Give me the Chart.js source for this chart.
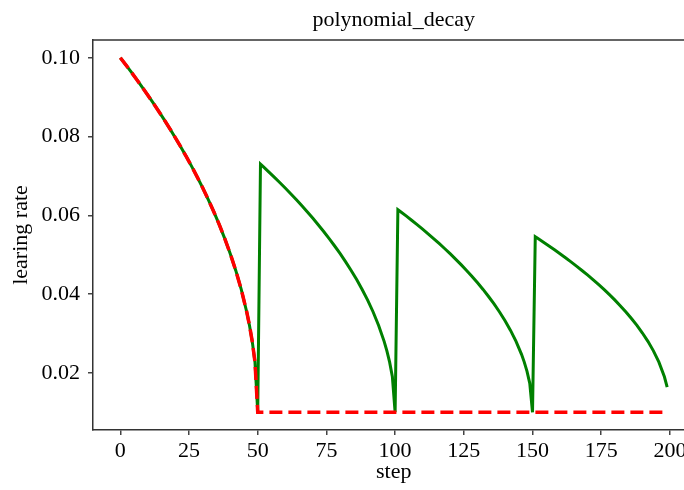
<!DOCTYPE html>
<html>
<head>
<meta charset="utf-8">
<script src="https://cdn.jsdelivr.net/npm/chart.js@4/dist/chart.umd.min.js"></script>
<style>
html, body { margin: 0; padding: 0; overflow: hidden; background: #fff; }
#wrap { width: 700px; height: 490px; }
</style>
</head>
<body>
<div id="wrap"><canvas id="c" width="700" height="490"></canvas></div>
<script>
// ---- data ----
const chartTitle = "polynomial_decay";
const xLabel = "step";
const yLabel = "learing rate";

const xTicks = [0, 25, 50, 75, 100, 125, 150, 175, 200];
const yTicks = [0.02, 0.04, 0.06, 0.08, 0.10];

// cycle=True (green solid)
const greenSteps = [0,2,4,6,8,10,12,14,16,18,20,22,24,26,28,30,32,34,36,38,40,42,44,46,47,48,49,50,
  51,52,54,56,58,60,62,64,66,68,70,72,74,76,78,80,82,84,86,88,90,92,94,96,97,98,99,100,
  101,102,104,106,108,110,112,114,116,118,120,122,124,126,128,130,132,134,136,138,140,142,144,146,147,148,149,150,
  151,152,154,156,158,160,162,164,166,168,170,172,174,176,178,180,182,184,186,188,190,192,194,196,198,199];
const greenLR = [0.1,0.09818,0.09633,0.09443,0.09249,0.09050,0.08846,0.08637,0.08422,0.08200,0.07971,0.07735,0.07490,0.07235,0.06970,0.06692,0.06400,0.06091,0.05762,0.05409,0.05025,0.04600,0.04118,0.03546,0.03205,0.02800,0.02273,0.01000,
  0.07300,0.07235,0.07104,0.06970,0.06833,0.06692,0.06548,0.06400,0.06248,0.06091,0.05930,0.05762,0.05589,0.05409,0.05221,0.05025,0.04818,0.04600,0.04368,0.04118,0.03846,0.03546,0.03205,0.02800,0.02559,0.02273,0.01900,0.01000,
  0.06144,0.06091,0.05984,0.05874,0.05762,0.05648,0.05530,0.05409,0.05285,0.05157,0.05025,0.04888,0.04747,0.04600,0.04447,0.04286,0.04118,0.03939,0.03750,0.03546,0.03324,0.03078,0.02800,0.02470,0.02273,0.02039,0.01735,0.01000,
  0.05455,0.05409,0.05316,0.05221,0.05124,0.05025,0.04923,0.04818,0.04711,0.04600,0.04486,0.04368,0.04245,0.04118,0.03985,0.03846,0.03700,0.03546,0.03381,0.03205,0.03012,0.02800,0.02559,0.02273,0.01900,0.01636];

// cycle=False (red dashed)
const redSteps = [0,2,4,6,8,10,12,14,16,18,20,22,24,26,28,30,32,34,36,38,40,42,44,46,47,48,49,50,199];
const redLR = [0.1,0.09818,0.09633,0.09443,0.09249,0.09050,0.08846,0.08637,0.08422,0.08200,0.07971,0.07735,0.07490,0.07235,0.06970,0.06692,0.06400,0.06091,0.05762,0.05409,0.05025,0.04600,0.04118,0.03546,0.03205,0.02800,0.02273,0.01000,0.01000];

// ---- chart ----
const FONT = { family: "'Liberation Serif', 'DejaVu Serif', serif", size: 22 };
const toXY = (xs, ys) => xs.map((x, i) => ({ x: x, y: ys[i] }));

const framePlugin = {
  id: 'frame',
  afterDatasetsDraw(chart) {
    const { ctx, chartArea: a } = chart;
    ctx.save();
    ctx.strokeStyle = '#333';
    ctx.lineWidth = 1.5;
    ctx.beginPath();
    ctx.moveTo(a.left, a.top);
    ctx.lineTo(a.right, a.top);
    ctx.lineTo(a.right, a.bottom);
    ctx.stroke();
    ctx.restore();
  }
};

new Chart(document.getElementById('c'), {
  type: 'line',
  data: {
    datasets: [
      {
        label: 'cycle=False',
        data: toXY(redSteps, redLR),
        borderColor: '#ff0000',
        borderWidth: 3.5,
        borderDash: [13, 6],
        borderCapStyle: 'butt',
        pointRadius: 0,
        tension: 0,
        fill: false
      },
      {
        label: 'cycle=True',
        data: toXY(greenSteps, greenLR),
        borderColor: '#008000',
        borderWidth: 3,
        pointRadius: 0,
        tension: 0,
        fill: false
      }
    ]
  },
  options: {
    responsive: false,
    animation: false,
    layout: { padding: { left: 0, right: 5.5, top: 0, bottom: 0 } },
    plugins: {
      legend: { display: false },
      tooltip: { enabled: false },
      title: {
        display: true,
        text: chartTitle,
        fullSize: false,
        color: '#000',
        font: { family: FONT.family, size: 22, weight: 'normal' },
        padding: { top: 7, bottom: 6.6 }
      }
    },
    scales: {
      x: {
        type: 'linear',
        min: -9.95,
        max: 208.95,
        afterFit: s => { s.height = 60; },
        afterBuildTicks: s => { s.ticks = xTicks.map(v => ({ value: v })); },
        ticks: { font: FONT, color: '#000', padding: 3.5, maxRotation: 0, autoSkip: false },
        grid: { display: true, drawOnChartArea: false, drawTicks: true, tickLength: 5, color: '#444', lineWidth: 1.5 },
        border: { display: true, color: '#333', width: 1.5 },
        title: { display: true, text: xLabel, color: '#000', font: FONT, padding: { top: 0, bottom: 5 } }
      },
      y: {
        type: 'linear',
        min: 0.0055,
        max: 0.1045,
        afterFit: s => { s.width = 93; },
        afterBuildTicks: s => { s.ticks = yTicks.map(v => ({ value: v })); },
        ticks: { font: FONT, color: '#000', padding: 8, autoSkip: false, callback: v => Number(v).toFixed(2) },
        grid: { display: true, drawOnChartArea: false, drawTicks: true, tickLength: 5, color: '#444', lineWidth: 1.5 },
        border: { display: true, color: '#333', width: 1.5 },
        title: { display: true, text: yLabel, color: '#000', font: FONT, padding: { top: 8, bottom: 0 } }
      }
    }
  },
  plugins: [framePlugin]
});
</script>
</body>
</html>
